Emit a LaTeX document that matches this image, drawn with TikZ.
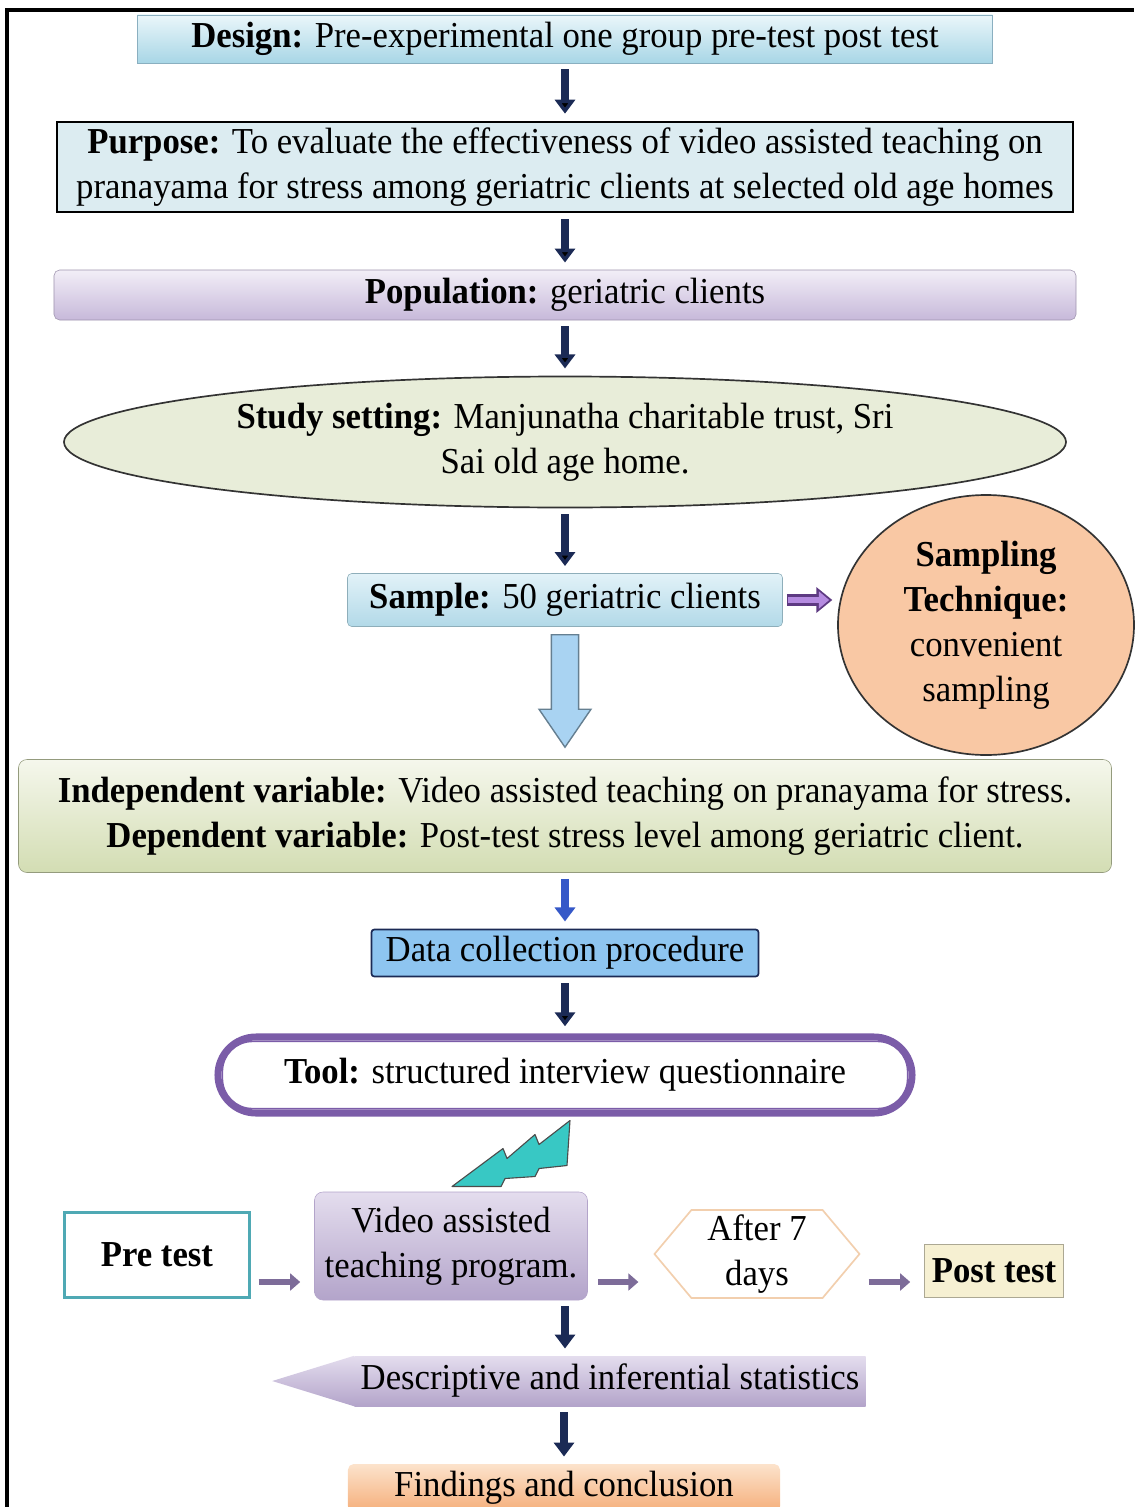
\documentclass[tikz,border=0pt]{standalone}
\usepackage{fontspec}
\setmainfont{Liberation Serif}[FakeStretch=0.95]
\usetikzlibrary{positioning,shapes.geometric,shapes.symbols,arrows.meta,calc}

\definecolor{navyarr}{HTML}{1B2A55}
\definecolor{designtop}{HTML}{EAF6FA}
\definecolor{designbot}{HTML}{A8D6E6}
\definecolor{designline}{HTML}{8AAFC0}
\definecolor{purposefill}{HTML}{DCECF1}
\definecolor{poptop}{HTML}{F2EEF7}
\definecolor{popbot}{HTML}{C7B9DA}
\definecolor{settingfill}{HTML}{E8EDD9}
\definecolor{sampletop}{HTML}{E2F2F8}
\definecolor{samplebot}{HTML}{B2D9E8}
\definecolor{peach}{HTML}{F9C8A4}
\definecolor{vartop}{HTML}{F5F7EC}
\definecolor{varbot}{HTML}{D3DDB3}
\definecolor{datafill}{HTML}{8EC5F0}
\definecolor{toolpur}{HTML}{7B5CA8}
\definecolor{bolt}{HTML}{38C8C4}
\definecolor{preline}{HTML}{4FA9B4}
\definecolor{vidtop}{HTML}{E4DDEE}
\definecolor{vidbot}{HTML}{B3A4CA}
\definecolor{afterline}{HTML}{F2CFAE}
\definecolor{postfill}{HTML}{F6F0D2}
\definecolor{findtop}{HTML}{FCE3CC}
\definecolor{findbot}{HTML}{F5AE7A}
\definecolor{rowarr}{HTML}{7D6C99}
\definecolor{lightblock}{HTML}{A9D3F2}
\definecolor{sidearr}{HTML}{B58BE0}
\definecolor{sidedark}{HTML}{5E3A82}
\definecolor{bluearr}{HTML}{3558C8}

\begin{document}
\begin{tikzpicture}[node distance=3.2cm,on grid,
  every node/.style={font=\fontsize{26}{32}\selectfont,align=center,inner sep=0pt},
  darr/.style={-{Triangle[width=0.5cm,length=0.35cm]},line width=0.2cm,draw=navyarr,
    shorten <=0.15cm,shorten >=0.18cm},
  rowarrow/.style={-{Triangle[width=0.42cm,length=0.25cm]},line width=0.17cm,draw=rowarr},
  box/.style={rectangle,minimum height=1.25cm}]
% frame and page
\useasboundingbox (-14.125,0.975) rectangle (14.225,-36.7);
\draw[line width=2.2pt] (-13.95,-36.7) -- (-13.95,0.725) -- (14.225,0.725);

\node[box,draw=designline,top color=designtop,bottom color=designbot,
  minimum width=21.375cm,minimum height=1.2cm] (design)
  {\textbf{Design:} Pre-experimental one group pre-test post test};
\node[box,draw=black,line width=1.6pt,fill=purposefill,minimum width=25.4cm,
  minimum height=2.25cm] (purpose) [below = of design]
  {\textbf{Purpose:} To evaluate the effectiveness of video assisted teaching on\\
   pranayama for stress among geriatric clients at selected old age homes};
\node[box,draw=popbot!80!black,rounded corners=4pt,top color=poptop,bottom color=popbot,
  minimum width=25.55cm] (population) [below = of purpose]
  {\textbf{Population:} geriatric clients};
\node[ellipse,draw=black!80,line width=1.2pt,fill=settingfill,minimum width=25.05cm,
  minimum height=3.275cm] (setting) [below = 3.675cm of population]
  {\textbf{Study setting:} Manjunatha charitable trust, Sri\\Sai old age home.};
\node[box,draw=samplebot!80!black,rounded corners=3pt,top color=sampletop,bottom color=samplebot,
  minimum width=10.875cm,minimum height=1.325cm] (sample) [below = 3.95cm of setting]
  {\textbf{Sample:} 50 geriatric clients};
\node[ellipse,draw=black!80,line width=1.2pt,fill=peach,minimum width=7.4cm,
  minimum height=6.5cm] (technique) [below right = 0.625cm and 10.525cm of sample]
  {\textbf{Sampling}\\\textbf{Technique:}\\convenient\\sampling};
\node[box,draw=varbot!70!black,rounded corners=6pt,top color=vartop,bottom color=varbot,
  minimum width=27.325cm,minimum height=2.825cm] (vars) [below = 5.4cm of sample]
  {\textbf{Independent variable:} Video assisted teaching on pranayama for stress.\\
   \textbf{Dependent variable:} Post-test stress level among geriatric client.};
\node[box,draw=navyarr,line width=1.2pt,rounded corners=2pt,fill=datafill,minimum width=9.675cm,
  minimum height=1.175cm] (data) [below = 3.425cm of vars] {Data collection procedure};
\node[box,draw=toolpur,line width=5pt,rounded corners=0.95cm,fill=white,
  minimum width=17.35cm,minimum height=1.9cm] (tool) [below = 3.05cm of data]
  {\textbf{Tool:} structured interview questionnaire};
\draw[toolpur,line width=1pt,rounded corners=0.75cm]
  ([shift={(0.2,-0.2)}]tool.north west) rectangle ([shift={(-0.2,0.2)}]tool.south east);

\node[box,draw=vidbot,rounded corners=6pt,top color=vidtop,bottom color=vidbot,
  minimum width=6.825cm,minimum height=2.7cm] (video) [below left = 4.275cm and 2.85cm of tool]
  {Video assisted\\teaching program.};
\node[box,draw=preline,line width=1.6pt,fill=white,minimum width=4.625cm,
  minimum height=2.125cm] (pre) [below left = 0.225cm and 7.35cm of video] {\textbf{Pre test}};
\node[signal,signal to=west and east,signal pointer angle=100,draw=afterline,line width=1.2pt,
  fill=white,minimum width=5.125cm,minimum height=2.2cm] (after)
  [below right = 0.2cm and 7.65cm of video] {After 7\\days};
\node[box,draw=postfill!70!black,fill=postfill,minimum width=3.475cm,minimum height=1.325cm]
  (post) [below right = 0.425cm and 5.925cm of after] {\textbf{Post test}};
\node[box,top color=vidtop,bottom color=vidbot,minimum width=12.775cm] (desc)
  [below right = 3.375cm and 3.975cm of video] {Descriptive and inferential statistics};
\shade[top color=vidtop,bottom color=vidbot] (desc.north west) -- ([xshift=-2.05cm]desc.west)
  -- (desc.south west) -- cycle;
\node[box,top color=findtop,bottom color=findbot,rounded corners=4pt,minimum width=10.8cm,
  minimum height=1.2cm] (findings) [below left = 2.675cm and 1.15cm of desc]
  {Findings and conclusion};

% lightning
\begin{scope}[shift={(tool.south)},x=0.025cm,y=-0.025cm]
\draw[fill=bolt,draw=black!70,line width=0.8pt,line join=round]
  (-113,70) -- (-62,32) -- (-58,42) -- (-30,18) -- (-26,28) -- (5,4)
  -- (2,49) -- (-26,52) -- (-30,60) -- (-60,62) -- (-64,70) -- cycle;
\end{scope}

% connectors
\path[darr]
(design) edge (purpose)
(purpose) edge (population)
(population) edge (setting)
(setting) edge (sample)
(data) edge (tool);
\draw[darr,draw=bluearr] (vars) -- (data);
\draw[darr] (video.south -| tool.south) -- (desc.north -| tool.south);
\draw[darr] (desc.south -| findings.north) -- (findings.north);
\draw[-{Triangle[width=0.62cm,length=0.4cm]},line width=0.3cm,draw=sidedark,
  shorten <=0.1cm,shorten >=0.12cm] (sample.east) -- (sample.east -| technique.west);
\draw[-{Triangle[width=0.42cm,length=0.26cm]},line width=0.16cm,draw=sidearr,
  shorten <=0.14cm,shorten >=0.2cm] (sample.east) -- (sample.east -| technique.west);
\draw[draw=lightblock!60!black,fill=lightblock,line width=1pt]
  ([xshift=-0.34cm,yshift=-0.2cm]sample.south) -- ([xshift=-0.34cm,yshift=1.25cm]vars.north)
  -- ([xshift=-0.65cm,yshift=1.25cm]vars.north) -- ([yshift=0.3cm]vars.north)
  -- ([xshift=0.65cm,yshift=1.25cm]vars.north) -- ([xshift=0.34cm,yshift=1.25cm]vars.north)
  -- ([xshift=0.34cm,yshift=-0.2cm]sample.south) -- cycle;
\coordinate (row) at ([yshift=-0.9cm]video.center);
\draw[rowarrow,shorten <=0.2cm,shorten >=0.35cm] (pre.east |- row) -- (video.west |- row);
\draw[rowarrow,shorten <=0.25cm,shorten >=0.375cm] (video.east |- row) -- (after.west |- row);
\draw[rowarrow,shorten <=0.2cm,shorten >=0.35cm] (after.east |- row) -- (post.west |- row);
\end{tikzpicture}
\end{document}
